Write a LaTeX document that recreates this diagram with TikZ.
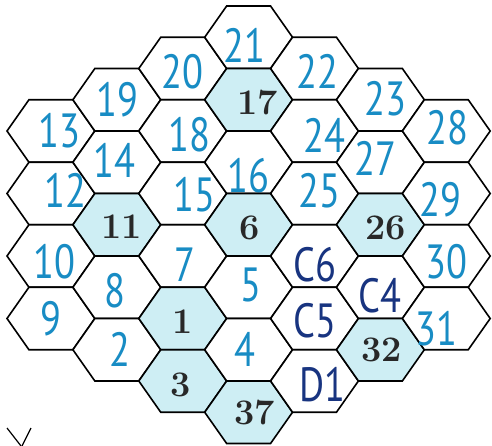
\documentclass[tikz,border=0pt]{standalone}
\usepackage{fontspec}
\newfontfamily\handfont[FakeStretch=0.8]{PT Sans}
\definecolor{hexcyan}{RGB}{206,238,244}
\definecolor{penblue}{RGB}{24,140,196}
\definecolor{pennavy}{RGB}{24,52,128}
\definecolor{inkgray}{RGB}{40,40,40}
\begin{document}
\begin{tikzpicture}[x=1pt,y=-1pt,
  hexline/.style={draw=black,line width=1.6pt,line join=miter},
  hw/.style={hexline,fill=white},
  hc/.style={hexline,fill=hexcyan},
  bl/.style={text=penblue,font=\handfont\fontsize{48}{48}\selectfont,inner sep=0pt},
  nv/.style={text=pennavy,font=\handfont\fontsize{48}{48}\selectfont,inner sep=0pt},
  pr/.style={text=inkgray,font=\bfseries\fontsize{36}{36}\selectfont,inner sep=0pt}]
\useasboundingbox (0,0) rectangle (492,446);
\foreach \c/\r/\lab/\hs/\ts/\dx/\dy in {
  0/0/13/hw/bl/9/0, 0/1/12/hw/bl/15/-3, 0/2/10/hw/bl/4/6, 0/3/9/hw/bl/0/0,
  1/0/19/hw/bl/1/0, 1/1/14/hw/bl/-2/-2, 1/2/11/hc/pr/5/2, 1/3/8/hw/bl/-2/3, 1/4/2/hw/bl/3/0,
  2/0/20/hw/bl/0/3, 2/1/18/hw/bl/7/4, 2/2/15/hw/bl/12/1, 2/3/7/hw/bl/2/9, 2/4/1/hc/pr/0/3, 2/5/3/hc/pr/-2/4,
  3/0/21/hw/bl/-4/8, 3/1/17/hc/pr/9/3, 3/2/16/hw/bl/0/13, 3/3/6/hc/pr/1/3, 3/4/5/hw/bl/2/-2, 3/5/4/hw/bl/-4/0, 3/6/37/hc/pr/6/0,
  4/0/22/hw/bl/3/3, 4/1/24/hw/bl/10/4, 4/2/25/hw/bl/5/-3, 4/3/C6/hw/nv/0/9, 4/4/C5/hw/nv/0/2, 4/5/D1/hw/nv/8/4,
  5/0/23/hw/bl/5/-1, 5/1/27/hw/bl/-5/-4, 5/2/26/hc/pr/5/3, 5/3/C4/hw/nv/0/8, 5/4/32/hc/pr/1/0,
  6/0/28/hw/bl/1/-3, 6/1/29/hw/bl/-6/6, 6/2/30/hw/bl/0/6, 6/3/31/hw/bl/-10/10}{
  \pgfmathsetmacro\cx{50.9+65.9*\c}
  \pgfmathsetmacro\cy{6+31.25*abs(\c-3)+31.25+62.5*\r}
  \path[\hs] (\cx-43.9,\cy) -- (\cx-21.95,\cy-31.25) -- (\cx+21.95,\cy-31.25)
     -- (\cx+43.9,\cy) -- (\cx+21.95,\cy+31.25) -- (\cx-21.95,\cy+31.25) -- cycle;
  \node[\ts] (h\lab) at (\cx+\dx,\cy+\dy) {\lab};
}
\draw[line width=1.2pt] (7,428) -- (21,446);
\draw[line width=1.2pt] (31,428) -- (22,446);
\end{tikzpicture}
\end{document}
